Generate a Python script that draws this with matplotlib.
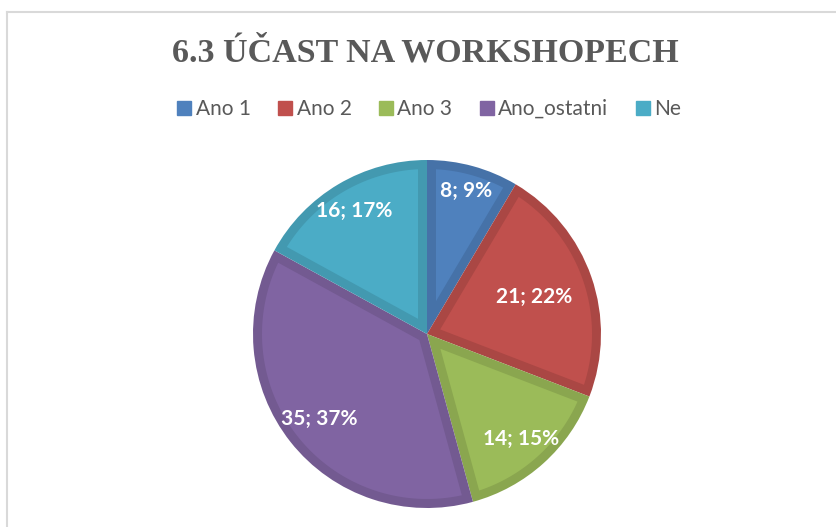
import numpy as np
import matplotlib
matplotlib.use("Agg")
import matplotlib.pyplot as plt
from matplotlib.lines import Line2D
from matplotlib.patches import Polygon

# data
categories = ["Ano 1", "Ano 2", "Ano 3", "Ano_ostatni", "Ne"]
counts = [8, 21, 14, 35, 16]
title = "6.3 ÚČAST NA WORKSHOPECH"

fills = ["#4F81BD", "#C0504D", "#9BBB59", "#8064A2", "#4BACC6"]
borders = ["#4672A8", "#AA4744", "#8AA64F", "#735A91", "#4399B0"]
label_r = [0.85, 0.65, 0.81, 0.79, 0.82]

W, H = 836, 527
fig = plt.figure(figsize=(W / 100, H / 100), dpi=100)
ax = fig.add_axes([0, 0, 1, 1])

# pie in pixel coordinates (y up); outer pie gives the darker border
cx, cy, r = 427, H - 334, 174
d = 9  # border width in px
wedges, _ = ax.pie(counts, colors=borders, startangle=90, counterclock=False,
                   center=(cx, cy), radius=r,
                   wedgeprops=dict(linewidth=0))

# lighter inner part of each wedge, inset by d from every edge
for w, fc in zip(wedges, fills):
    a1, a2 = w.theta1, w.theta2
    half = np.radians(a2 - a1) / 2
    bis = np.radians(a1) + half
    apex = (cx + d / np.sin(half) * np.cos(bis), cy + d / np.sin(half) * np.sin(bis))
    R = r - d
    off = np.arcsin(d / R)
    t = np.linspace(np.radians(a1) + off, np.radians(a2) - off, 100)
    pts = [apex] + list(zip(cx + R * np.cos(t), cy + R * np.sin(t)))
    ax.add_patch(Polygon(pts, closed=True, facecolor=fc, edgecolor="none"))

ax.set_xlim(0, W)
ax.set_ylim(0, H)
ax.set_aspect("auto")
ax.axis("off")

# data labels "value; percent"
total = sum(counts)
cum = np.cumsum([0] + counts)
for i, v in enumerate(counts):
    mid = 90 - (cum[i] + v / 2) / total * 360
    x = cx + label_r[i] * r * np.cos(np.radians(mid))
    y = cy + label_r[i] * r * np.sin(np.radians(mid))
    pct = int(round(v / total * 100))
    ax.text(x, y, f"{v}; {pct}%", color="white", fontsize=15,
            fontweight="bold", family="Lato", ha="center", va="center")

# title
fig.text(425 / W, 1 - 62 / H, title, ha="center", va="baseline",
         family="Liberation Serif", fontweight="bold", fontsize=24.5,
         color="#595959")

# legend
handles = [Line2D([], [], marker="s", linestyle="none", markersize=10,
                  markerfacecolor=c, markeredgecolor=c) for c in fills]
fig.legend(handles, categories, loc="center", ncol=5,
           bbox_to_anchor=(429 / W, 1 - 109 / H), frameon=False,
           prop={"family": "Lato", "size": 15}, labelcolor="#595959",
           handlelength=0.7, handletextpad=0.2, columnspacing=1.3)

# chart area border (left and top edges visible)
fig.add_artist(Line2D([7 / W, 7 / W], [0, 1 - 12 / H], color="#D9D9D9",
                      linewidth=1.5, transform=fig.transFigure))
fig.add_artist(Line2D([7 / W, 1], [1 - 12 / H, 1 - 12 / H], color="#D9D9D9",
                      linewidth=1.5, transform=fig.transFigure))

fig.savefig("out.png", dpi=100)
